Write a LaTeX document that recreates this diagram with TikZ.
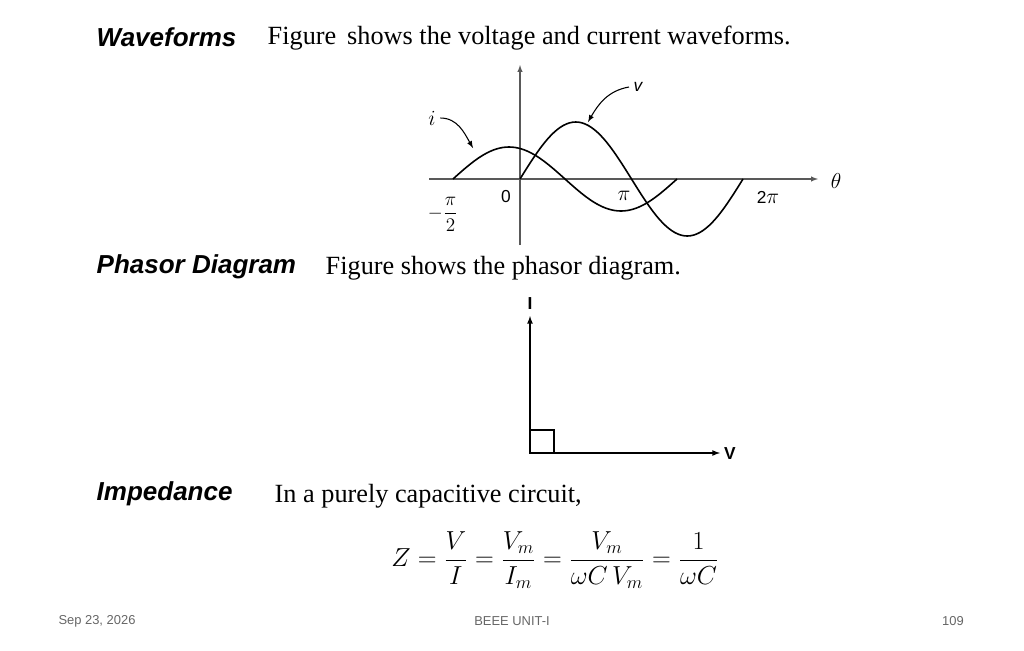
\documentclass[tikz,border=0pt]{standalone}
\usepackage{amsmath}
\usepackage{graphicx}
\usepackage{fontspec}
\setmainfont{Liberation Serif}
\setsansfont{Liberation Sans}
\usetikzlibrary{positioning}
\usetikzlibrary{calc}
\tikzset{heading/.style={font=\sffamily\bfseries\itshape\fontsize{19.5}{22}\selectfont, anchor=west}}
\tikzset{body/.style={font=\fontsize{19.7}{22}\selectfont, anchor=west}}
\tikzset{foot/.style={font=\sffamily\fontsize{9.7}{11}\selectfont, text=gray!80!black}}
\tikzset{tick/.style={font=\fontsize{13}{15}\selectfont}}
\tikzset{wave/.style={line width=1.2pt, smooth}}
\newcommand{\ticksym}[1]{\scalebox{1.35}{$#1$}}
\begin{document}
\begin{tikzpicture}[x=0.75pt, y=-0.75pt, >=latex]
\useasboundingbox (0,0) rectangle (1024,650);

\node[heading] (wavehead) at (92, 37) {Waveforms};
\node[body] (wavetext) at (263, 38) {Figure\, shows the voltage and current waveforms.};

% axes
\coordinate (origin) at (520, 179);
\coordinate (xstart) at (429, 179);
\coordinate (xend) at (818, 179);
\coordinate (ystart) at (520, 245);
\coordinate (yend) at (520, 65);
\draw[->, gray!70!black, line width=0.8pt] (xstart) -- (xend);
\draw[->, gray!70!black, line width=0.8pt] (ystart) -- (yend);
\node[tick] (theta) at (836, 181) {\ticksym{\theta}};
\node[tick] (zero) at (506, 197) {\sffamily 0};
\node[tick] (pi) at (624, 196) {\ticksym{\pi}};
\node[tick] (twopi) at (768, 197) {\sffamily 2\ticksym{\pi}};
\node[tick] (halfpi) at (443, 214) {\scalebox{1.2}{$-\dfrac{\pi}{2}$}};

% waves
\draw[wave] plot[domain=0:360, samples=73] ({520+\x/360*223}, {179-57*sin(\x)});
\draw[wave] plot[domain=0:360, samples=73] ({453+\x/360*224}, {179-32*sin(\x)});

\node[tick] (ilabel) at (432, 118) {\ticksym{i}};
\node[tick] (vlabel) at (638, 87) {\sffamily\itshape v};
\coordinate (ipoint) at (473, 148);
\coordinate (vpoint) at (588, 122);
\draw[->, line width=0.8pt] (ilabel.east) to[out=0, in=120] (ipoint);
\draw[->, line width=0.8pt] (vlabel.west) to[out=190, in=60] (vpoint);

\node[heading] (phasorhead) at (92, 267) {Phasor Diagram};
\node[body] (phasortext) at (321, 268) {Figure shows the phasor diagram.};

% phasor
\coordinate (pzero) at (530, 453);
\coordinate (itip) at (530, 316);
\coordinate (vtip) at (720, 453);
\draw[->, line width=1pt] (pzero) -- (itip);
\draw[->, line width=1pt] (pzero) -- (vtip);
\draw[line width=0.8pt] (530, 430) rectangle (554, 453);
\node[tick] (Ilabel) at (530, 304) {\sffamily\bfseries I};
\node[tick] (Vlabel) at (730, 454) {\sffamily\bfseries V};

\node[heading] (imphead) at (92, 494) {Impedance};
\node[body] (imptext) at (270, 496) {In a purely capacitive circuit,};

\node (formula) at (555, 560) {\scalebox{1.13}{\fontsize{17}{20}\selectfont
  $Z=\dfrac{V}{I}=\dfrac{V_m}{I_m}=\dfrac{V_m}{\omega C\,V_m}=\dfrac{1}{\omega C}$}};

\node[foot] (date) at (97, 621) {Sep 23, 2026};
\node[foot] (unit) at (512, 621) {BEEE UNIT-I};
\node[foot] (page) at (953, 621) {109};
\end{tikzpicture}
\end{document}
